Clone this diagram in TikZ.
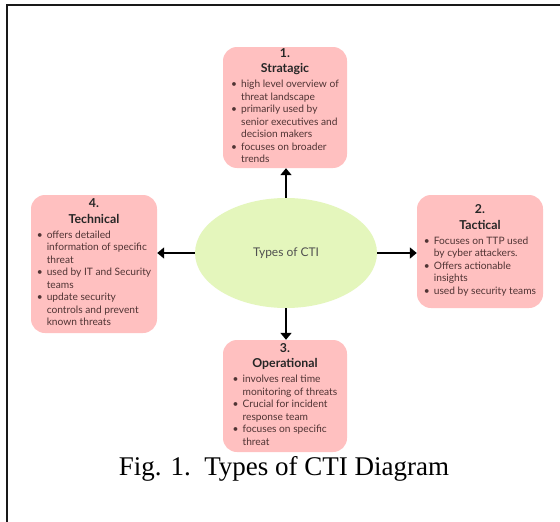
\documentclass[tikz,border=0pt]{standalone}
\usepackage{fontspec}
\setmainfont{Liberation Serif}
\newfontfamily\boxfont{Lato}
\usetikzlibrary{shapes.geometric,arrows.meta}
\definecolor{boxpink}{RGB}{255,192,192}
\definecolor{ellgreen}{RGB}{228,246,188}
\definecolor{boxtext}{RGB}{80,52,52}
\definecolor{elltext}{RGB}{80,80,80}
\newcommand{\bl}{\textbullet}
\newcommand{\ctititle}[2]{\fontsize{12.3}{15}\selectfont\bfseries\color{black!85}#1\\[2.5pt] \fontsize{12.3}{15}\selectfont\bfseries\color{black!85}#2}
\tikzset{
  ctibox/.style={rectangle, rounded corners=14pt, fill=boxpink, inner sep=0pt,
    font=\boxfont\fontsize{10.2}{12.5}\selectfont, text=boxtext},
  hub/.style={ellipse, fill=ellgreen, inner sep=0pt, minimum width=182pt, minimum height=110pt,
    font=\boxfont\fontsize{12}{14}\selectfont, text=elltext},
  link/.style={line width=2.6pt, -{Triangle[length=7pt,width=11pt]}},
  frameline/.style={line width=2pt, draw=black!90},
  caption/.style={font=\fontsize{27}{32}\selectfont, anchor=base, inner sep=0pt}
}
\begin{document}
\begin{tikzpicture}[x=1pt,y=-1pt]
\useasboundingbox (0,0) rectangle (560,522);
\fill[white] (0,0) rectangle (560,522);
\coordinate (fA) at (7,522);
\coordinate (fB) at (7,5);
\coordinate (fC) at (560,5);
\draw[frameline] (fA) -- (fB) -- (fC);

\node[hub] (hub) at (286,253) {Types of CTI};

\node[ctibox, minimum width=124pt, minimum height=121pt] (top) at (285,107.5) {%
\begin{tabular}{@{}c@{}}
\ctititle{1.}{Stratagic}\\[2.5pt]
\begin{tabular}{@{}l@{\hspace{4pt}}l@{}}
\bl & high level overview of\\
    & threat landscape\\
\bl & primarily used by\\
    & senior executives and\\
    & decision makers\\
\bl & focuses on broader\\
    & trends
\end{tabular}
\end{tabular}};

\node[ctibox, minimum width=126pt, minimum height=138pt] (left) at (94,264) {%
\begin{tabular}{@{}c@{}}
\ctititle{4.}{Technical}\\[2.5pt]
\begin{tabular}{@{}l@{\hspace{4pt}}l@{}}
\bl & offers detailed\\
    & information of specific\\
    & threat\\
\bl & used by IT and Security\\
    & teams\\
\bl & update security\\
    & controls and prevent\\
    & known threats
\end{tabular}
\end{tabular}};

\node[ctibox, minimum width=126pt, minimum height=113pt] (right) at (480,251.5) {%
\begin{tabular}{@{}c@{}}
\ctititle{2.}{Tactical}\\[2.5pt]
\begin{tabular}{@{}l@{\hspace{4pt}}l@{}}
\bl & Focuses on TTP used\\
    & by cyber attackers.\\
\bl & Offers actionable\\
    & insights\\
\bl & used by security teams
\end{tabular}
\end{tabular}};

\node[ctibox, minimum width=124pt, minimum height=112pt] (bottom) at (285,396) {%
\begin{tabular}{@{}c@{}}
\ctititle{3.}{Operational}\\[2.5pt]
\begin{tabular}{@{}l@{\hspace{4pt}}l@{}}
\bl & involves real time\\
    & monitoring of threats\\
\bl & Crucial for incident\\
    & response team\\
\bl & focuses on specific\\
    & threat
\end{tabular}
\end{tabular}};

\draw[link] (hub.north) -- (hub.north |- top.south);
\draw[link] (hub.south) -- (hub.south |- bottom.north);
\draw[link] (hub.west) -- (hub.west -| left.east);
\draw[link] (hub.east) -- (hub.east -| right.west);

\node[caption] (cap) at (284,475) {Fig. 1.\ \ Types of CTI Diagram};
\end{tikzpicture}
\end{document}
